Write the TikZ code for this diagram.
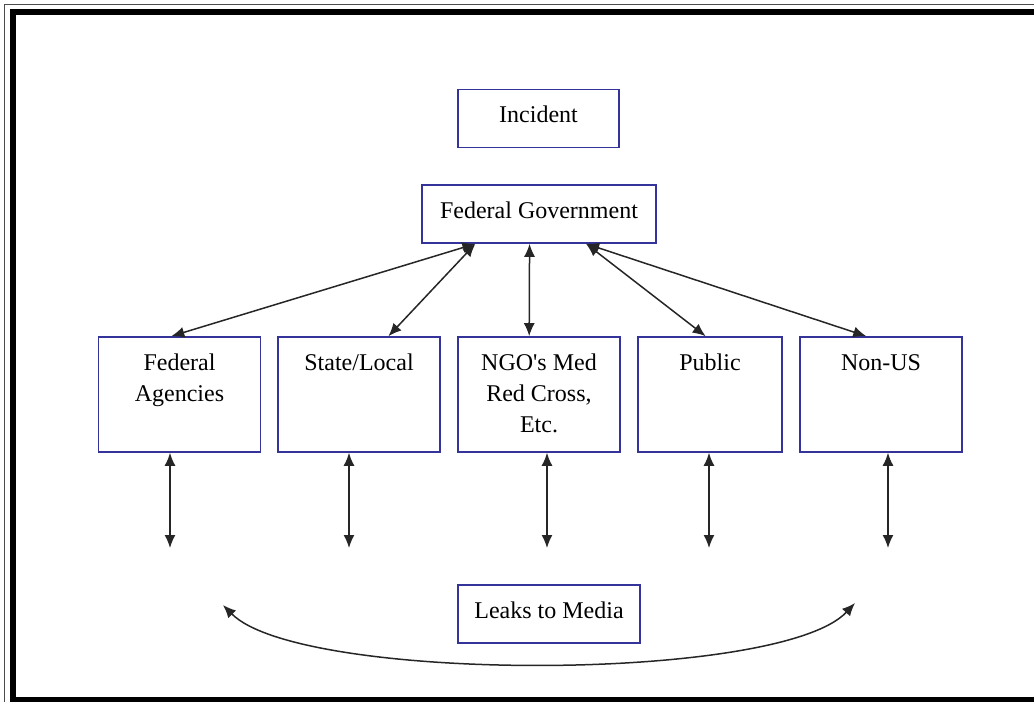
\documentclass[tikz,border=0pt]{standalone}
\usepackage{fontspec}
\setmainfont{Liberation Serif}
\usetikzlibrary{arrows.meta, calc}
\definecolor{boxblue}{RGB}{51,51,153}
\newcommand{\rowlabel}[1]{\parbox[c][57.5pt][t]{70pt}{\centering\rule{0pt}{16.5pt}#1}}

\begin{document}
\begin{tikzpicture}[x=0.5pt, y=-0.5pt, font=\fontsize{12}{15.5}\selectfont,
  box/.style={draw=boxblue, line width=0.8pt, inner sep=0pt, minimum height=29pt, text height=8pt, text depth=4pt},
  rowbox/.style={draw=boxblue, line width=0.8pt, inner sep=0pt, minimum width=81pt},
  link/.style={<->, >={Latex[length=6.5pt, width=5.5pt]}, line width=0.75pt, black!85}]
  \useasboundingbox (0,0) rectangle (1034,702);
  % page frame, cut at right and bottom
  \fill (10,9) rectangle (1034,15);
  \fill (10,9) rectangle (16,702);
  \fill (10,697) rectangle (1034,702);
  \draw[line width=0.5pt, black!70] (4.5,702) -- (4.5,4.5) -- (1034,4.5);

  \node[box, minimum width=80.5pt] (incident) at (538.5,118.5) {Incident};
  \node[box, minimum width=117pt] (fedgov) at (539,214) {Federal Government};

  \node[rowbox] (fedag) at (179.5,394.5) {\rowlabel{Federal\\ Agencies}};
  \node[rowbox] (state) at (359,394.5) {\rowlabel{State/Local}};
  \node[rowbox] (ngo) at (539,394.5) {\rowlabel{NGO\textquotesingle s Med\\ Red Cross,\\ Etc.}};
  \node[rowbox, minimum width=72pt] (public) at (710,394.5) {\rowlabel{Public}};
  \node[rowbox] (nonus) at (881,394.5) {\rowlabel{Non-US}};

  \node[box, minimum width=91pt] (leaks) at (549,614) {Leaks to Media};

  \draw[link] ($(fedgov.south west)!0.23!(fedgov.south east)$) -- ($(fedag.north west)!0.45!(fedag.north east)$);
  \draw[link] ($(fedgov.south west)!0.23!(fedgov.south east)$) -- ($(state.north west)!0.68!(state.north east)$);
  \draw[link] ($(fedgov.south west)!0.46!(fedgov.south east)$) -- ($(ngo.north west)!0.44!(ngo.north east)$);
  \draw[link] ($(fedgov.south west)!0.70!(fedgov.south east)$) -- ($(public.north west)!0.47!(public.north east)$);
  \draw[link] ($(fedgov.south west)!0.70!(fedgov.south east)$) -- ($(nonus.north west)!0.41!(nonus.north east)$);

  \foreach \n/\x in {fedag/170, state/349, ngo/547, public/709, nonus/888}{
    \coordinate (\n-end) at (\x,548);
    \draw[link] (\n.south -| \n-end) -- (\n-end);
  }

  \coordinate (leftend) at (223,605);
  \coordinate (rightend) at (855,603);
  \draw[link] (leftend) .. controls (300,683) and (780,683) .. (rightend);
\end{tikzpicture}
\end{document}
